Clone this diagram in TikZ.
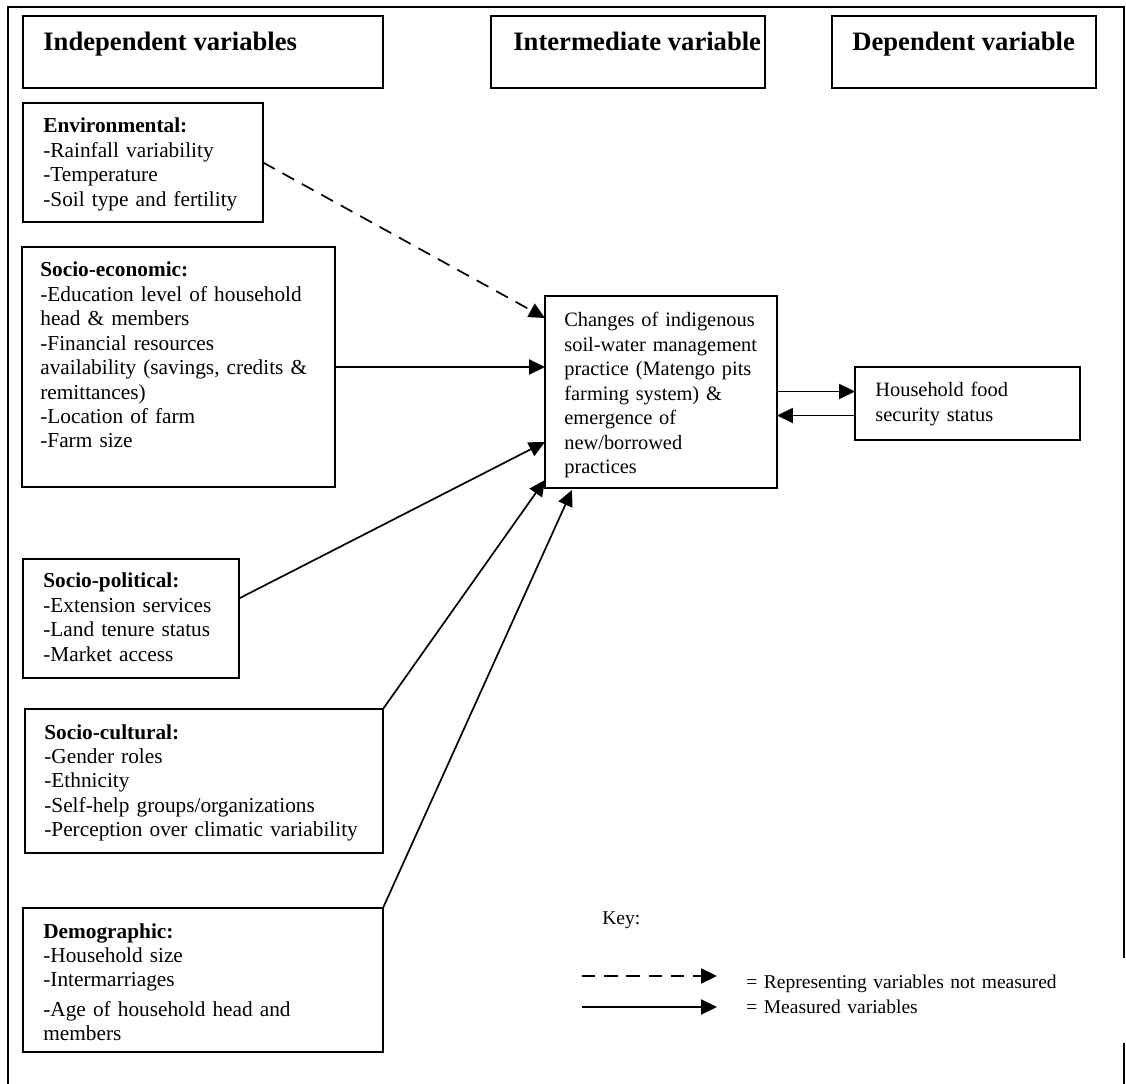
\documentclass[tikz,border=0pt]{standalone}
\usepackage{fontspec}
\setmainfont{Liberation Serif}
\usetikzlibrary{arrows.meta}
\newcommand{\px}{0.5634pt}
\tikzset{
  varbox/.style={draw,line width=1.1pt,rectangle,anchor=north west,inner sep=0pt,outer sep=0pt},
  vartext/.style={anchor=base west,align=left,inner sep=0pt,text width=200pt,font=\fontsize{12}{13.75}\selectfont},
  smalltext/.style={vartext,font=\fontsize{11.5}{13.75}\selectfont},
  headtext/.style={anchor=base west,inner sep=0pt,font=\fontsize{15}{18}\selectfont\bfseries},
  meas/.style={-{Triangle[length=9pt,width=8.5pt]},line width=0.95pt},
  notmeas/.style={meas,dash pattern=on 7.5pt off 5pt},
}
\begin{document}
\begin{tikzpicture}[x=\px,y=-\px]%
\useasboundingbox (0,0) rectangle (1126,1084);
%%FRAME
\draw[line width=1.1pt] (1124,958) -- (1124,7) -- (8,7) -- (8,1084);
\draw[line width=1.1pt] (1124,1043) -- (1124,1084);
%%HEADERS
\node[varbox,minimum width=360*\px,minimum height=72*\px] (indep) at (23,16) {};
\node[varbox,minimum width=274*\px,minimum height=72*\px] (inter) at (491,16) {};
\node[varbox,minimum width=264*\px,minimum height=72*\px] (dep) at (832,16) {};
\node[headtext] (indeptxt) at (43,51) {Independent variables};
\node[headtext] (intertxt) at (513,51) {Intermediate variable};
\node[headtext] (deptxt) at (852,51) {Dependent variable};
%%INDEPENDENT VARIABLES
\node[varbox,minimum width=240*\px,minimum height=119*\px] (env) at (23,103) {};
\node[varbox,minimum width=313*\px,minimum height=240*\px] (eco) at (22,247) {};
\node[varbox,minimum width=216*\px,minimum height=119*\px] (pol) at (23,559) {};
\node[varbox,minimum width=358*\px,minimum height=144*\px] (cult) at (25,709) {};
\node[varbox,minimum width=360*\px,minimum height=144*\px] (demo) at (23,908) {};
\node[vartext] (envtxt) at (43,133) {\textbf{Environmental:}\\-Rainfall variability\\-Temperature\\-Soil type and fertility};
\node[vartext] (ecotxt) at (40,277) {\textbf{Socio-economic:}\\-Education level of household\\head \& members\\-Financial resources\\availability (savings, credits \&\\remittances)\\-Location of farm\\-Farm size};
\node[vartext] (poltxt) at (43,588) {\textbf{Socio-political:}\\-Extension services\\-Land tenure status\\-Market access};
\node[vartext] (culttxt) at (44,739) {\textbf{Socio-cultural:}\\-Gender roles\\-Ethnicity\\-Self-help groups/organizations\\-Perception over climatic variability};
\node[vartext] (demotxt) at (43,938) {\textbf{Demographic:}\\-Household size\\-Intermarriages\\[3pt]-Age of household head and\\members};
%%INTERMEDIATE / DEPENDENT
\node[varbox,minimum width=232*\px,minimum height=192*\px] (chg) at (545,296) {};
\node[varbox,minimum width=225*\px,minimum height=73*\px] (food) at (855,367) {};
\node[smalltext] (chgtxt) at (564,327) {Changes of indigenous\\soil-water management\\practice (Matengo pits\\farming system) \&\\emergence of\\new/borrowed\\practices};
\node[smalltext] (foodtxt) at (875,397) {Household food\\security status};
%%ARROWS
\draw[notmeas] (env.east) -- ([shift={(0,22)}]chg.north west);
\draw[meas] (eco.east) -- (eco.east -| chg.west);
\draw[meas] ([shift={(0,-20)}]pol.east) -- ([shift={(0,146)}]chg.north west);
\draw[meas] (cult.north east) -- ([shift={(0,184)}]chg.north west);
\draw[meas] (demo.north east) -- ([shift={(27,2)}]chg.south west);
\coordinate (fup) at ([shift={(0,-12)}]food.west);
\coordinate (fdown) at ([shift={(0,12)}]food.west);
\draw[meas] (fup -| chg.east) -- (fup);
\draw[meas] (fdown) -- (fdown -| chg.east);
%%KEY
\node[vartext,font=\fontsize{11}{13.75}\selectfont] (key) at (602,924) {Key:};
\coordinate (k1a) at (582,976);
\coordinate (k1b) at (717,976);
\coordinate (k2a) at (582,1007);
\coordinate (k2b) at (717,1007);
\draw[notmeas] (k1a) -- (k1b);
\draw[meas] (k2a) -- (k2b);
\node[vartext,font=\fontsize{11}{13.75}\selectfont] (keynot) at (746,988) {= Representing variables not measured};
\node[vartext,font=\fontsize{11}{13.75}\selectfont] (keymeas) at (746,1013) {= Measured variables};
\end{tikzpicture}
\end{document}
